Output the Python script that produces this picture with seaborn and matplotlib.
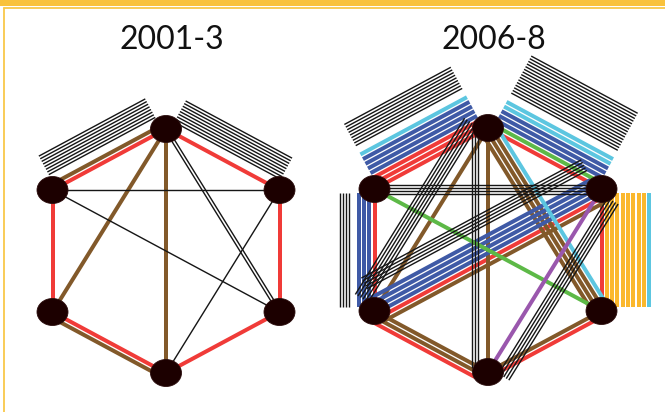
import numpy as np
import pandas as pd
import matplotlib
matplotlib.use("Agg")
import matplotlib.pyplot as plt
from matplotlib.patches import Ellipse, Rectangle
import seaborn as sns

# panel titles
periods = ["2001-3", "2006-8"]

# hexagon nodes, clockwise from the top
nodes = ["T", "UR", "LR", "B", "LL", "UL"]
node_angles = [90, 30, -30, -90, -150, 150]

# links: (node a, node b, colour, number of parallel lines)
# within a pair the order is the stacking order of the lines
links_2001 = [
    ("T", "UL", "red", 1), ("T", "UL", "brown", 1), ("T", "UL", "black", 8),
    ("T", "UR", "red", 1), ("T", "UR", "black", 9),
    ("UL", "LL", "red", 1),
    ("UR", "LR", "red", 1),
    ("LL", "B", "red", 1), ("LL", "B", "brown", 1),
    ("LR", "B", "red", 1),
    ("UL", "UR", "black", 1),
    ("T", "B", "brown", 1),
    ("T", "LL", "brown", 1),
    ("T", "LR", "black", 2),
    ("UL", "LR", "black", 1),
    ("UR", "B", "black", 1),
]

links_2006 = [
    ("T", "UL", "red", 3), ("T", "UL", "blue", 4), ("T", "UL", "cyan", 1), ("T", "UL", "black", 9),
    ("T", "UR", "red", 1), ("T", "UR", "green", 1), ("T", "UR", "blue", 3), ("T", "UR", "cyan", 2),
    ("T", "UR", "black", 15),
    ("UL", "LL", "red", 1), ("UL", "LL", "blue", 3), ("UL", "LL", "black", 4),
    ("UR", "LR", "red", 1), ("UR", "LR", "orange", 8), ("UR", "LR", "cyan", 1),
    ("LL", "B", "brown", 2), ("LL", "B", "red", 1),
    ("LR", "B", "brown", 1), ("LR", "B", "red", 1),
    ("UL", "UR", "black", 4),
    ("UR", "LL", "brown", 1), ("UR", "LL", "red", 1), ("UR", "LL", "blue", 4), ("UR", "LL", "black", 5),
    ("T", "LL", "brown", 1), ("T", "LL", "black", 6),
    ("T", "B", "brown", 1), ("T", "B", "black", 3),
    ("T", "LR", "brown", 3), ("T", "LR", "cyan", 1),
    ("UR", "B", "black", 5), ("UR", "B", "purple", 1),
    ("UL", "LR", "green", 1),
]

palette = {
    "red": "#f03b38", "brown": "#82592a", "blue": "#3f5aa6", "cyan": "#5cc6e0",
    "green": "#5db947", "purple": "#9a57ad", "orange": "#fbb82d", "black": "#161616",
}

# layout (pixels)
W, H = 665, 412
centres = [(166, 251), (488, 250)]
RX = 113.5 / np.cos(np.radians(30))   # side nodes sit 113.5 px from the centre
RY = 122
STEP, THIN_STEP, GAP, TRIM = 5.3, 3.0, 10, 4


def node_xy(cx, cy):
    t = np.radians(node_angles)
    return {n: np.array([cx + RX * np.cos(a), cy - RY * np.sin(a)]) for n, a in zip(nodes, t)}


def bundle_segments(links, pos, centre, tag):
    df = pd.DataFrame(links, columns=["a", "b", "colour", "n"])
    rows = []
    for (a, b), grp in df.groupby(["a", "b"], sort=False):
        p, q = pos[a], pos[b]
        d = (q - p) / np.linalg.norm(q - p)
        nrm = np.array([-d[1], d[0]])
        outer = abs(nodes.index(a) - nodes.index(b)) in (1, 5)
        if outer:
            if np.dot(nrm, (p + q) / 2 - centre) < 0:
                nrm = -nrm
        elif np.dot(nrm, [-0.3, -1]) < 0:
            nrm = -nrm

        cols = [c for c, n in zip(grp.colour, grp.n) for _ in range(n)]
        offs = []
        for i, c in enumerate(cols):
            if i == 0:
                offs.append(0.0)
                continue
            prev = cols[i - 1]
            if prev == "black" and c == "black":
                step = THIN_STEP
            elif (prev == "black") != (c == "black"):
                step = GAP
            else:
                step = STEP
            offs.append(offs[-1] + step)
        offs = np.array(offs)
        if not outer:
            coloured = [o for o, c in zip(offs, cols) if c != "black"]
            offs -= np.mean(coloured) if coloured else offs.mean()

        for k, (c, o) in enumerate(zip(cols, offs)):
            sid = f"{tag}-{a}{b}-{k}"
            for end in (p + d * TRIM, q - d * TRIM):
                x, y = end + nrm * o
                rows.append({"seg": sid, "x": x, "y": y, "colour": c,
                             "thin": c == "black"})
    return rows


sns.set_theme(style="white")
fig = plt.figure(figsize=(W / 100, H / 100), dpi=100)
ax = fig.add_axes([0, 0, 1, 1])

rows = []
positions = []
for tag, links, (cx, cy) in zip(periods, [links_2001, links_2006], centres):
    pos = node_xy(cx, cy)
    positions.append(pos)
    rows += bundle_segments(links, pos, np.array([cx, cy]), tag)
seg = pd.DataFrame(rows)

for thin, lw in [(False, 4.0 * 0.72), (True, 1.4 * 0.72)]:
    sub = seg[seg.thin == thin]
    sns.lineplot(data=sub, x="x", y="y", units="seg", estimator=None, hue="colour",
                 palette=palette, sort=False, legend=False, lw=lw,
                 solid_capstyle="butt", ax=ax)

for pos in positions:
    for n in nodes:
        ax.add_patch(Ellipse(pos[n], 31, 27, fc="#1c0000", ec="#2b0d0d", lw=0.6, zorder=5))

for title, (cx, cy) in zip(periods, centres):
    ax.text(cx + 6, 40, title, ha="center", va="center", fontsize=23,
            family=["Lato", "DejaVu Sans"], color="#111111")

# frame
ax.add_patch(Rectangle((0, 0), W, 5.5, color="#f9c23c", lw=0, zorder=6))
ax.plot([4, W], [7.5, 7.5], color="#f9c84a", lw=1.3, zorder=6)
ax.plot([4, 4], [7.5, H], color="#f9c84a", lw=1.3, zorder=6)

ax.set_xlim(0, W)
ax.set_ylim(H, 0)
ax.axis("off")
fig.savefig("out.png", dpi=100)
